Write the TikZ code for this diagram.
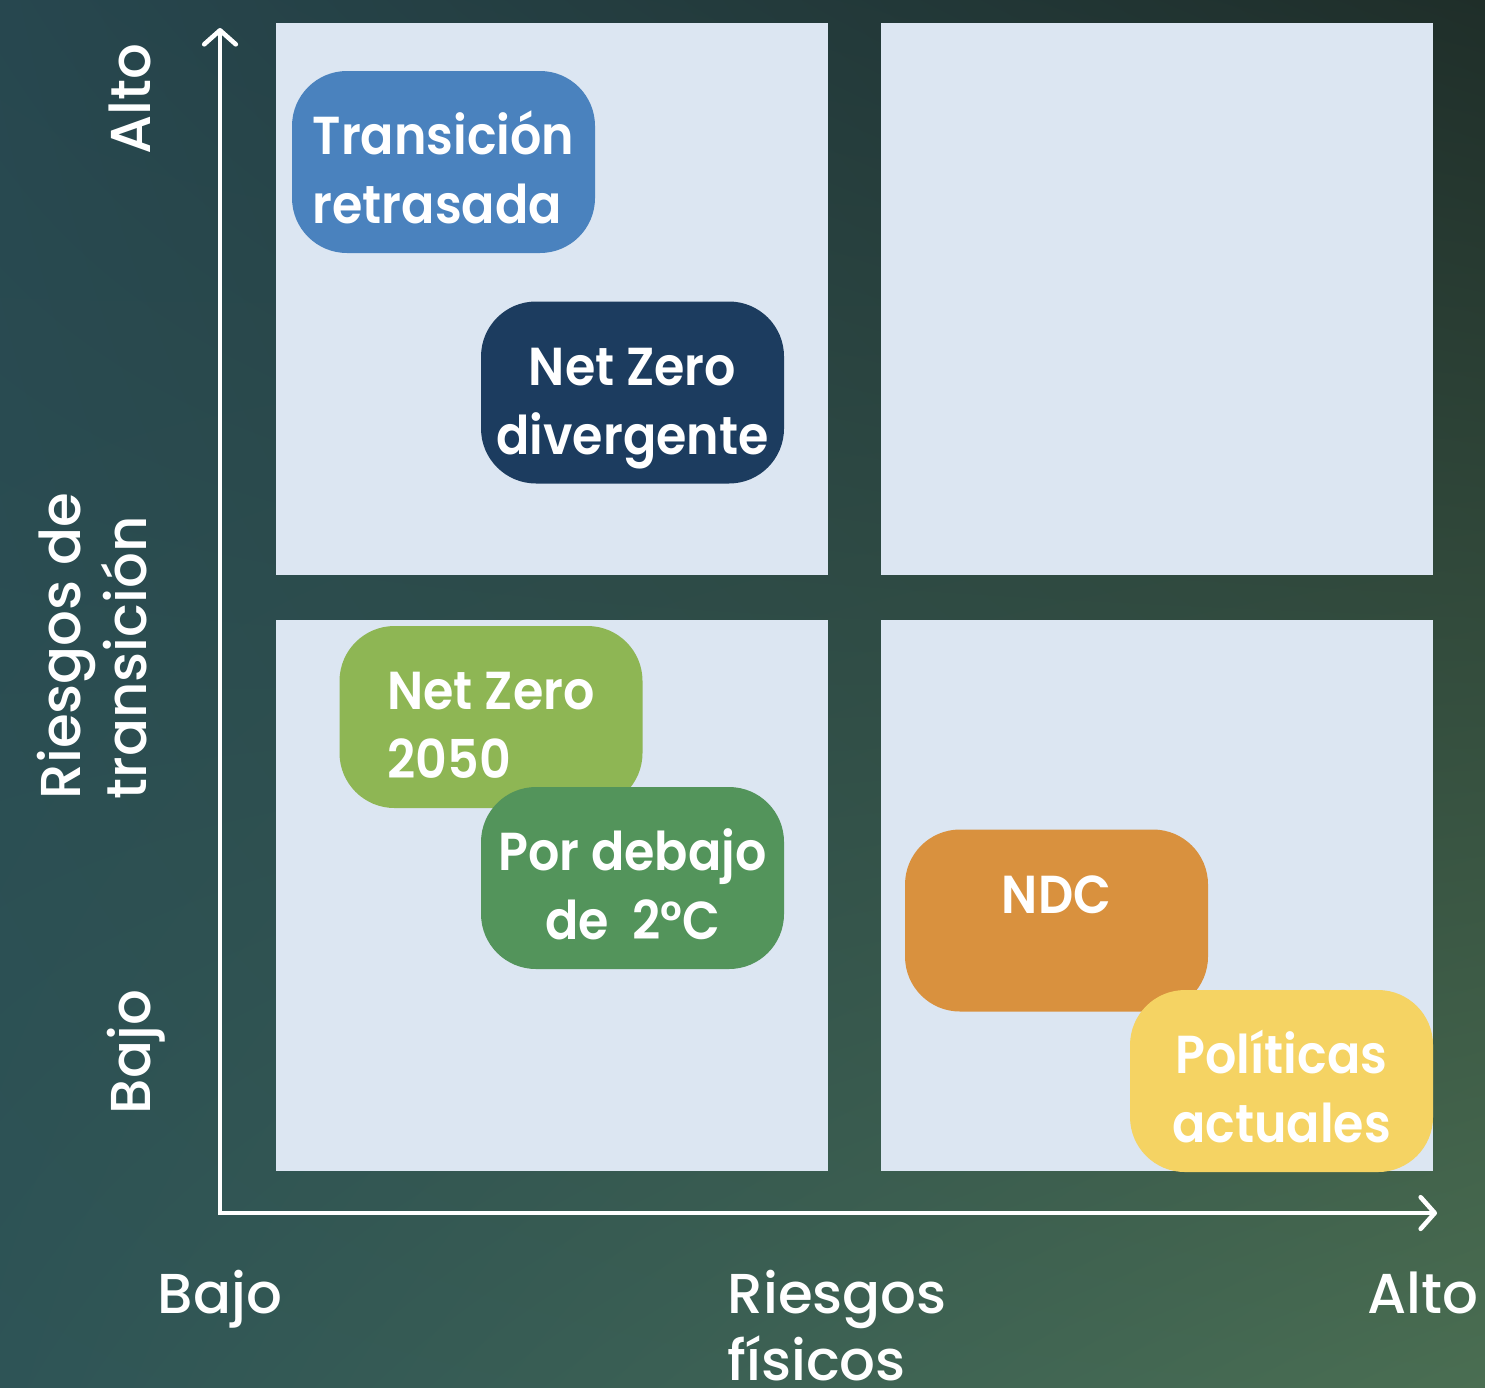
\documentclass[tikz,border=0pt]{standalone}
\usepackage{fontspec}
\setmainfont{Poppins}[UprightFont=* Medium, BoldFont=* SemiBold]
\newfontfamily\cajafont{Poppins SemiBold}[FakeStretch=0.92]
\usetikzlibrary{arrows.meta,shadings}

\definecolor{fondoA}{HTML}{27474F}
\definecolor{fondoB}{HTML}{1F2E29}
\definecolor{fondoC}{HTML}{2E5456}
\definecolor{fondoD}{HTML}{4A6E52}
\definecolor{cuadro}{HTML}{DCE6F2}
\definecolor{azul}{HTML}{4A82BE}
\definecolor{marino}{HTML}{1C3C5F}
\definecolor{verdeclaro}{HTML}{8EB654}
\definecolor{verde}{HTML}{53945B}
\definecolor{naranja}{HTML}{D9913E}
\definecolor{amarillo}{HTML}{F5D363}

\tikzset{
  cuadrante/.style={fill=cuadro},
  caja/.style={rounded corners=0.55cm, minimum width=3.03cm, minimum height=1.82cm,
    inner sep=0pt, text height=1.43cm, text depth=0.2cm, text=white,
    font=\cajafont\fontsize{15.2}{19.6}\selectfont},
  etiqueta/.style={text=white, inner sep=0pt, font=\fontsize{16}{19}\selectfont},
  eje/.style={white, line width=1.3pt,
    {Straight Barb[length=4pt,width=9pt,round]}-{Straight Barb[length=4pt,width=9pt,round]}}
}

\begin{document}
\begin{tikzpicture}
  \useasboundingbox (0,0) rectangle (14.85,13.87);
  \shade[upper left=fondoA, upper right=fondoB, lower left=fondoC, lower right=fondoD]
    (0,0) rectangle (14.85,13.87);

  % cuadrantes
  \fill[cuadrante] (2.76,8.12) rectangle (8.28,13.64);
  \fill[cuadrante] (8.81,8.12) rectangle (14.33,13.64);
  \fill[cuadrante] (2.76,2.16) rectangle (8.28,7.67);
  \fill[cuadrante] (8.81,2.16) rectangle (14.33,7.67);

  % ejes
  \coordinate (origen) at (2.20,1.74);
  \coordinate (ytope) at (2.20,13.59);
  \coordinate (xfin) at (14.37,1.74);
  \draw[eje] (ytope) -- (origen) -- (xfin);

  \node[etiqueta, rotate=90, anchor=base west] (yalto) at (1.50,12.32) {Alto};
  \node[etiqueta, rotate=90, anchor=base west] (ybajo) at (1.50,2.72) {Bajo};
  \node[etiqueta, rotate=90, anchor=west, align=left] (ytitulo) at (0.92,5.87) {Riesgos de\\transición};

  \node[etiqueta, anchor=base west] (xbajo) at (1.57,0.74) {Bajo};
  \node[etiqueta, anchor=base west, align=left, text depth=0pt] (xtitulo) at (7.27,0.07) {Riesgos\\físicos};
  \node[etiqueta, anchor=base west] (xalto) at (13.67,0.74) {Alto};

  % escenarios
  \node[caja, fill=azul, align=left] (retrasada) at (4.435,12.25) {Transición\\retrasada};
  \node[caja, fill=marino, align=center] (divergente) at (6.325,9.945) {Net Zero\\divergente};
  \node[caja, fill=verdeclaro, align=left] (nz2050) at (4.91,6.70) {Net Zero\\2050};
  \node[caja, fill=verde, align=center] (debajo) at (6.325,5.09) {Por debajo\\de~~2°C};
  \node[caja, fill=naranja, align=center] (ndc) at (10.565,4.665) {NDC\\\phantom{NDC}};
  \node[caja, fill=amarillo, align=center] (actuales) at (12.815,3.06) {Políticas\\actuales};
\end{tikzpicture}
\end{document}
